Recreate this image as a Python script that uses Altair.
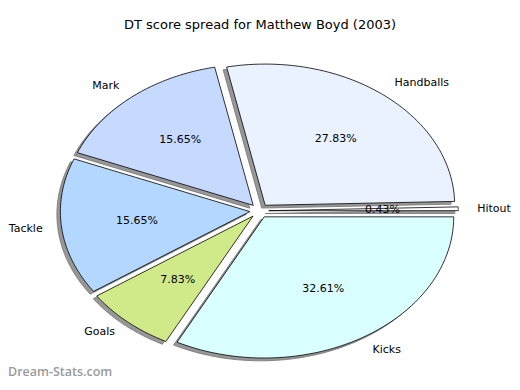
import altair as alt
import pandas as pd

title_text = "DT score spread for Matthew Boyd (2003)"
watermark = "Dream-Stats.com"
categories = ["Hitout", "Handballs", "Mark", "Tackle", "Goals", "Kicks"]
points = [1, 64, 36, 36, 18, 75]
colors = ["#ffffff", "#eaf1ff", "#c6d9ff", "#b4d7ff", "#d0ea8a", "#d9ffff"]
explode = 0.05

df = pd.DataFrame({"cat": categories, "points": points, "idx": list(range(len(categories)))})

xsc = alt.Scale(domain=[-1.3262, 1.3335], nice=False, zero=False)
ysc = alt.Scale(domain=[-1.2125, 1.4363], nice=False, zero=False)

base = (
    alt.Chart(df)
    .transform_window(cum="sum(points)", sort=[alt.SortField("idx")], frame=[None, 0])
    .transform_joinaggregate(total="sum(points)")
    .transform_calculate(
        a0="2*PI*(datum.cum-datum.points)/datum.total",
        a1="2*PI*datum.cum/datum.total",
    )
    .transform_calculate(am="(datum.a0+datum.a1)/2")
    .transform_calculate(
        cx=f"{explode}*cos(datum.am)",
        cy=f"{explode}*sin(datum.am)",
        pct="format(100*datum.points/datum.total, '.2f') + '%'",
    )
)

poly = (
    base.transform_calculate(steps="sequence(0, 62)")
    .transform_flatten(["steps"], as_=["k"])
    .transform_calculate(ang="datum.a0 + (datum.a1-datum.a0)*(datum.k-1)/60")
    .transform_calculate(
        px="datum.k == 0 ? datum.cx : datum.cx + cos(datum.ang)",
        py="datum.k == 0 ? datum.cy : datum.cy + sin(datum.ang)",
    )
)

enc = dict(
    x=alt.X("px:Q", scale=xsc, axis=None),
    y=alt.Y("py:Q", scale=ysc, axis=None),
    detail="cat:N",
    order=alt.Order("k:Q"),
)

shadow = poly.mark_line(
    interpolate="linear-closed", fill="#979797", stroke="#757575",
    strokeWidth=0.8, xOffset=-3.5, yOffset=2.8,
).encode(**enc)

wedges = poly.mark_line(
    interpolate="linear-closed", stroke="#000000", strokeWidth=0.8,
).encode(
    fill=alt.Fill("cat:N", scale=alt.Scale(domain=categories, range=colors), legend=None),
    **enc,
)

lab = base.transform_calculate(
    lx="datum.cx + 1.1*cos(datum.am)", ly="datum.cy + 1.1*sin(datum.am)"
)
lab_enc = dict(
    x=alt.X("lx:Q", scale=xsc, axis=None),
    y=alt.Y("ly:Q", scale=ysc, axis=None),
    text="cat:N",
)
labels_r = lab.transform_filter("cos(datum.am) > 0").mark_text(
    align="left", baseline="middle", font="DejaVu Sans", fontSize=11, color="#000000"
).encode(**lab_enc)
labels_l = lab.transform_filter("cos(datum.am) <= 0").mark_text(
    align="right", baseline="middle", font="DejaVu Sans", fontSize=11, color="#000000"
).encode(**lab_enc)

pcts = base.transform_calculate(
    qx="datum.cx + 0.6*cos(datum.am)", qy="datum.cy + 0.6*sin(datum.am)"
).mark_text(
    align="center", baseline="middle", font="DejaVu Sans", fontSize=11, color="#000000"
).encode(
    x=alt.X("qx:Q", scale=xsc, axis=None),
    y=alt.Y("qy:Q", scale=ysc, axis=None),
    text="pct:N",
)

title = alt.Chart(pd.DataFrame({"t": [title_text]})).mark_text(
    align="center", baseline="middle", font="DejaVu Sans", fontSize=13, color="#000000"
).encode(x=alt.value(252), y=alt.value(17), text="t:N")

wm = alt.Chart(pd.DataFrame({"t": [watermark]})).mark_text(
    align="left", baseline="middle", font="Open Sans", fontSize=12.5, fontWeight=600,
    color="#9a9a9a",
).encode(x=alt.value(0), y=alt.value(364), text="t:N")

chart = alt.layer(shadow, wedges, labels_r, labels_l, pcts, title, wm).properties(
    width=504, height=374, padding=0, autosize=alt.AutoSizeParams(type="none"),
    background="#ffffff",
).configure_view(strokeWidth=0)

chart.save("out.html", embed_options={"renderer": "svg", "actions": False})
